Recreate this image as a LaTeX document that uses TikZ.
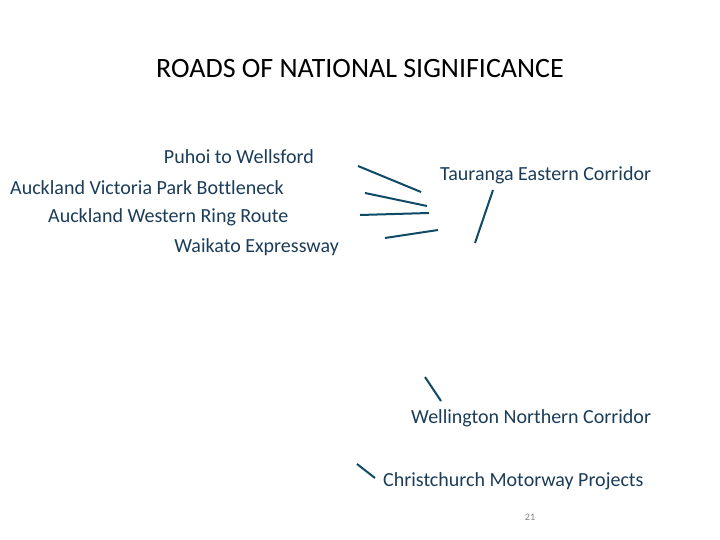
\documentclass[tikz,border=0pt]{standalone}
\usepackage{fontspec}
\setmainfont{Carlito}[Ligatures=NoCommon]
\definecolor{rnstext}{HTML}{1B3D5A}
\definecolor{rnsline}{HTML}{0F4A66}

\begin{document}
\begin{tikzpicture}[x=1pt,y=-1pt,
  road/.style={text=rnstext, font=\fontsize{20}{24}\selectfont, inner sep=0pt},
  pointer/.style={draw=rnsline, line width=2pt}]
  \useasboundingbox[fill=white] (0,0) rectangle (720,540);
  % title
  \node[font=\fontsize{28}{32}\selectfont, inner sep=0pt] (title) at (360,69) {ROADS OF NATIONAL SIGNIFICANCE};
  % road names
  \node[road, anchor=east] (puhoi) at (314,157) {Puhoi to Wellsford};
  \node[road, anchor=west] (vicpark) at (10,188) {Auckland Victoria Park Bottleneck};
  \node[road, anchor=west] (wrr) at (48,217) {Auckland Western Ring Route};
  \node[road, anchor=east] (waikato) at (339,247) {Waikato Expressway};
  \node[road, anchor=west] (tauranga) at (440,175) {Tauranga Eastern Corridor};
  \node[road, anchor=west] (wellington) at (411,418) {Wellington Northern Corridor};
  \node[road, anchor=west] (chch) at (383,481) {Christchurch Motorway Projects};
  \node[text=gray, font=\fontsize{10}{12}\selectfont] (pagenum) at (530,517) {21};
  % pointer ends
  \coordinate (p1a) at (358,166); \coordinate (p1b) at (421,192);
  \coordinate (p2a) at (365,193); \coordinate (p2b) at (427,206);
  \coordinate (p3a) at (360,215); \coordinate (p3b) at (429,213);
  \coordinate (p4a) at (385,238); \coordinate (p4b) at (438,230);
  \coordinate (p5a) at (493,190); \coordinate (p5b) at (475,243);
  \coordinate (p6a) at (425,377); \coordinate (p6b) at (441,401);
  \coordinate (p7a) at (357,464); \coordinate (p7b) at (375,478);
  % pointers
  \foreach \i in {1,...,7}{ \draw[pointer] (p\i a) -- (p\i b); }
\end{tikzpicture}
\end{document}
